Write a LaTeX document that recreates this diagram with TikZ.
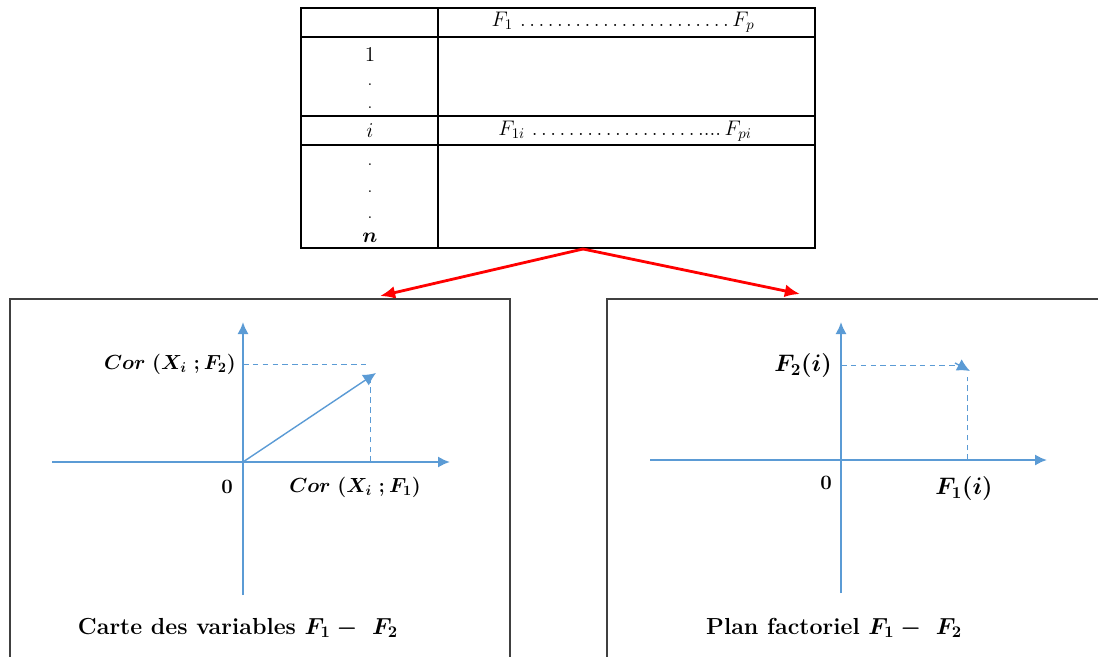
\RequirePackage{fix-cm}
\documentclass[tikz,border=0pt]{standalone}
\usepackage{amsmath}
\usepackage{xcolor}
\usepackage{tikz}
\usetikzlibrary{arrows.meta,positioning}

\definecolor{axisblue}{RGB}{91,155,213}

\begin{document}
\begin{tikzpicture}[
    x=0.025cm, y=-0.025cm,
    grid/.style={draw, line width=1pt},
    panel/.style={draw=black!75, line width=0.9pt},
    axis/.style={axisblue, line width=1.5pt, -{Latex[length=3mm, width=2.8mm]}},
    vec/.style={axisblue, line width=1pt, -{Latex[length=3.2mm, width=3.2mm]}},
    proj/.style={axisblue, line width=0.7pt, dash pattern=on 4pt off 3pt},
    arrow/.style={-{Latex[length=3.8mm, width=3.2mm]}, red, line width=2pt},
    cell/.style={font=\fontsize{15}{17}\selectfont, inner sep=0pt},
    lab/.style={font=\fontsize{14.5}{17}\selectfont\boldmath, inner sep=0pt},
    biglab/.style={font=\fontsize{17}{19}\selectfont\boldmath, inner sep=0pt},
    caption/.style={font=\fontsize{16.5}{19}\selectfont\bfseries\boldmath, inner sep=0pt}
  ]
    \clip (0,0) rectangle (1098,657);

    % data table
    \draw[grid] (301,8) rectangle (815,248);
    \draw[grid] (438,8) -- (438,248);
    \foreach \y in {37,116,145} \draw[grid] (301,\y) -- (815,\y);
    \node[cell] (head) at (623,22) {$F_1\,\ldots\ldots\ldots\ldots\ldots.\ldots\ldots.\,F_p$};
    \node[cell] (one) at (370,55) {$1$};
    \node[cell] (dota) at (370,85) {.};
    \node[cell] (dotb) at (370,108) {.};
    \node[cell] (rowi) at (370,131) {$i$};
    \node[cell] (vals) at (625,131) {$F_{1i}\,\ldots\ldots\ldots\ldots\ldots\ldots....\,F_{pi}$};
    \node[cell] (dotc) at (370,165) {.};
    \node[cell] (dotd) at (370,192) {.};
    \node[cell] (dote) at (370,218) {.};
    \node[cell] (rown) at (370,238) {$\boldsymbol{n}$};

    % red split arrows
    \coordinate (split) at (583,249);
    \coordinate (tocarte) at (380,296);
    \coordinate (toplan) at (800,294);
    \draw[arrow] (split) -- (tocarte);
    \draw[arrow] (split) -- (toplan);

    % panels (cut at the page edge)
    \draw[panel] (10,680) -- (10,299) -- (510,299) -- (510,680);
    \draw[panel] (607,680) -- (607,299) -- (1110,299);

    % carte des variables
    \coordinate (o1) at (243,462);
    \coordinate (xl1) at (52,462);
    \coordinate (xr1) at (450,462);
    \coordinate (yb1) at (243,595);
    \coordinate (yt1) at (243,322);
    \coordinate (p1) at (376,373);
    \draw[axis] (xl1) -- (xr1);
    \draw[axis] (yb1) -- (yt1);
    \draw[proj] (243,364) -- (366,364);
    \draw[proj] (370,462) -- (370,378);
    \draw[vec] (o1) -- (p1);
    \node[lab, anchor=east] (cor2) at (236,364) {$Cor\ (X_i\ ;F_2)$};
    \node[lab] (zero1) at (227,487) {$0$};
    \node[lab, anchor=west] (cor1) at (289,487) {$Cor\ (X_i\ ;F_1)$};
    \node[caption] (cap1) at (238,628) {Carte des variables $F_1 -\ F_2$};

    % plan factoriel
    \coordinate (o2) at (841,460);
    \coordinate (xl2) at (650,460);
    \coordinate (xr2) at (1047,460);
    \coordinate (yb2) at (841,593);
    \coordinate (yt2) at (841,322);
    \coordinate (p2) at (970,371);
    \draw[axis] (xl2) -- (xr2);
    \draw[axis] (yb2) -- (yt2);
    \draw[proj] (841,365) -- (956,365);
    \draw[proj] (967,460) -- (967,377);
    \draw[vec] (955,363) -- (p2);
    \node[biglab, anchor=east] (f2i) at (832,366) {$F_2(i)$};
    \node[lab] (zero2) at (826,483) {$0$};
    \node[biglab] (f1i) at (964,489) {$F_1(i)$};
    \node[caption] (cap2) at (834,628) {Plan factoriel $F_1 -\ F_2$};
  \end{tikzpicture}
\end{document}
